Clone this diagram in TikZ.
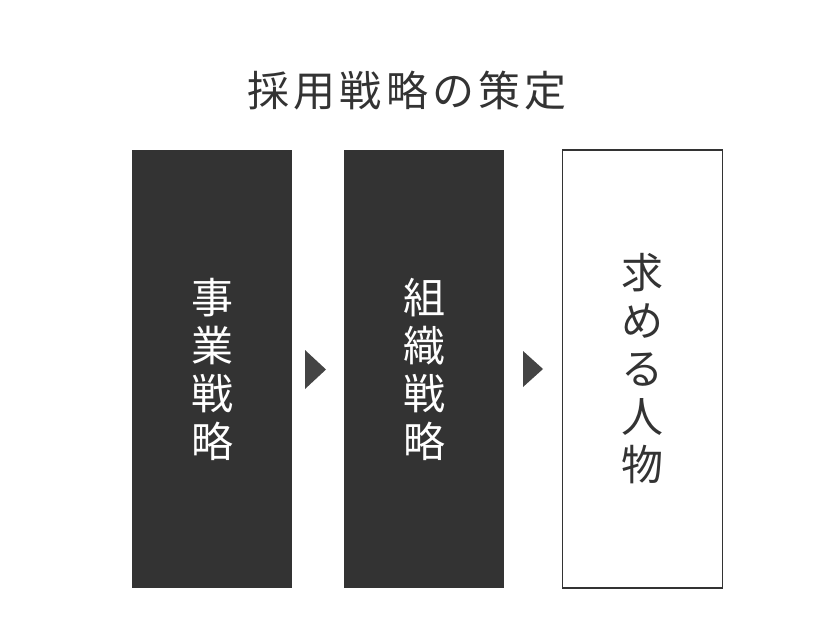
\documentclass[tikz,border=0pt]{standalone}
\usepackage{fontspec}
\newfontfamily\cjk{Noto Sans CJK JP}
\newfontfamily\cjktitle[LetterSpace=10]{Noto Sans CJK JP}
\definecolor{darkbox}{HTML}{333333}
\definecolor{tipgray}{HTML}{444444}
\tikzset{
  stage/.style={rectangle,minimum width=160pt,minimum height=438pt,inner sep=0pt,
    align=center,font=\cjk\fontsize{42}{48}\selectfont},
  darkstage/.style={stage,fill=darkbox,text=white},
  openstage/.style={stage,draw=darkbox,line width=1.5pt,fill=white,text=darkbox}
}
\begin{document}
\begin{tikzpicture}[x=1pt,y=-1pt]
            \useasboundingbox (0,0) rectangle (840,640);
            \node[text=darkbox,font=\cjktitle\fontsize{42}{48}\selectfont] (title) at (407,91) {採用戦略の策定};
            \begin{scope}[every node/.style={darkstage}]
                \node (BIZ) at (212,369) {事\\業\\戦\\略};
                \node (ORG) at (424,369) {組\\織\\戦\\略};
            \end{scope}
                \node[openstage] (HR) at (642.5,369) {求\\め\\る\\人\\物};
            % triangles between the boxes
                \fill[tipgray] (305,350) -- (326,369.5) -- (305,389) -- cycle;
                \fill[tipgray] (523,351) -- (543,369) -- (523,387) -- cycle;
\end{tikzpicture}
\end{document}
